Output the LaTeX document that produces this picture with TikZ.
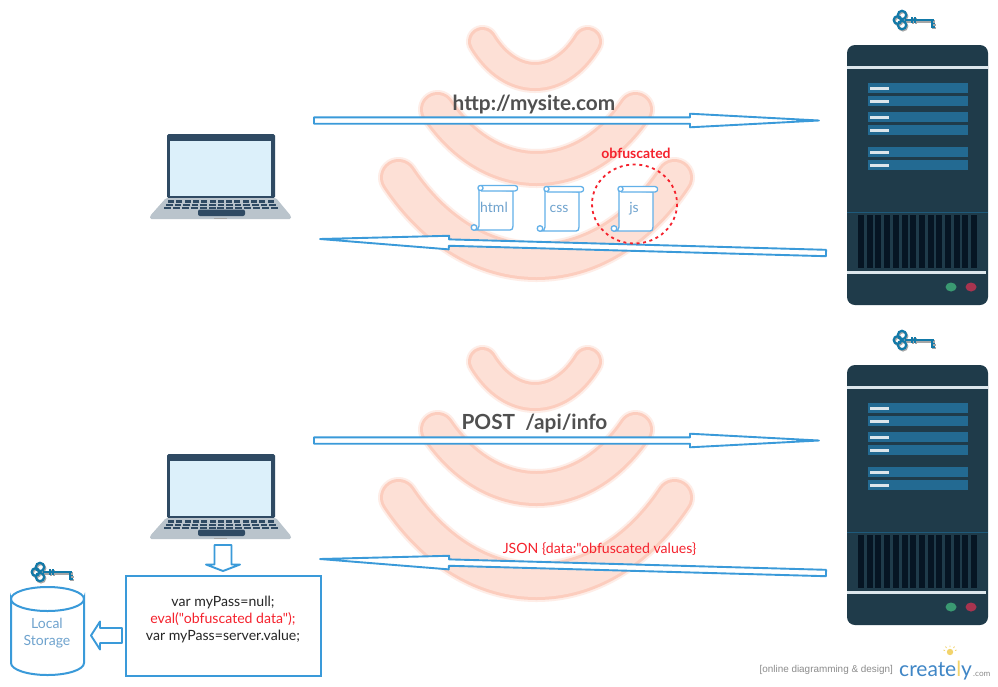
\documentclass[tikz,border=0pt]{standalone}
\usepackage{fontspec}
\setmainfont{Lato}[Ligatures=TeXOff]
\newfontfamily\arialish{Liberation Sans}
\usetikzlibrary{calc}
\definecolor{flow}{HTML}{3A9AD9}
\definecolor{docline}{HTML}{62B0E8}
\definecolor{doctext}{HTML}{6FA3CE}
\definecolor{bandfill}{HTML}{FDE0D6}
\definecolor{bandline}{HTML}{FCCDBE}
\definecolor{bandhalo}{HTML}{FEEDE7}
\definecolor{srv}{HTML}{1F3B4A}
\definecolor{srvbar}{HTML}{236A92}
\definecolor{srvline}{HTML}{DCE6EC}
\definecolor{srvvent}{HTML}{061523}
\definecolor{keyblue}{HTML}{1279A8}
\definecolor{lapdark}{HTML}{2F4A63}
\definecolor{lapscreen}{HTML}{DCF0FA}
\definecolor{lapbase}{HTML}{BAC4CC}
\definecolor{labelgrey}{HTML}{505050}
\definecolor{ledgreen}{HTML}{3A9A72}
\definecolor{ledred}{HTML}{A8344F}
\definecolor{brandblue}{HTML}{3F86C6}
\definecolor{brandlamp}{HTML}{F2D36B}
\definecolor{alert}{HTML}{F5222D}
% left tip x, right tip x, tip y, tip radius, outer bottom y, inner bottom y
\newcommand{\banana}[6]{%
  \pgfmathsetmacro{\bw}{2*#4}%
  \pgfmathsetmacro{\bc}{#3+(((#5+#6)/2)-#3)*4/3}%
  \pgfmathsetmacro{\bd}{(#2-#1)*0.27}%
  \def\bcurve{(#1,#3) .. controls ({#1+\bd},\bc) and ({#2-\bd},\bc) .. (#2,#3)}%
  \draw[bandhalo,line width=\bw pt+5pt,line cap=round] \bcurve;
  \draw[bandline,line width=\bw pt+1pt,line cap=round] \bcurve;
  \draw[bandfill,line width=\bw pt-5pt,line cap=round] \bcurve;
}
% block arrow between two named points: from, to, head length, half shaft, half head
\newcommand{\blockarrow}[5]{%
  \coordinate (hb) at ($(#2)!#3!(#1)$);
  \draw[flowarrow]
    ($(#1)!#4!90:(#2)$) -- ($(hb)!#4!90:(#2)$) -- ($(hb)!#5!90:(#2)$) -- (#2)
    -- ($(hb)!#5!-90:(#2)$) -- ($(hb)!#4!-90:(#2)$) -- ($(#1)!#4!-90:(#2)$) -- cycle;
}
\newcommand{\keyshape}[1]{%
  \draw[#1,line width=2.2pt] (902,15) circle (4.2) (897.5,20) circle (3.8) (902,25) circle (4.2);
  \draw[#1,line width=2.8pt] (905,20) -- (934,20);
  \draw[#1,line width=1.6pt] (912,17) -- (912,23) (915,17) -- (915,23);
  \draw[#1,line width=1.8pt] (932,20) -- (932,28) (932,23.5) -- (935,23.5) (932,27) -- (935,27);
}
\tikzset{
  flowarrow/.style={draw=flow,fill=white,line width=1.9pt,line join=round},
  docbody/.style={draw=docline,fill=white,line width=1.3pt,line join=round},
  doclabel/.style={text=doctext,font=\fontsize{14}{16}\selectfont},
  heading/.style={text=labelgrey,font=\fontsize{20.8}{24}\bfseries\selectfont,inner sep=0pt},
  codeline/.style={font=\fontsize{14.1}{16}\selectfont,inner sep=0pt,text=black!85},
  server/.pic={
    \fill[srv,rounded corners=8pt] (847,45) rectangle (988,305);
    \fill[srvline] (847,66) rectangle (988,68.5);
    \foreach \y in {83,96,112,125,147,160}{
      \fill[srvbar] (868,\y) rectangle (968,\y+10);
      \fill[srvline] (870,\y+4) rectangle (889,\y+6.5);
    }
    \fill[srvbar!85!black] (847,211.5) rectangle (988,212.7);
    \foreach \i in {0,...,13}{
      \fill[srvvent] ({858+8.7*\i},215) rectangle ({864+8.7*\i},268);
    }
    \fill[srvline] (847,271) rectangle (986,273.5);
    \fill[ledgreen] (951,287) ellipse (5.5 and 4.5);
    \fill[ledred] (971,287) ellipse (5.5 and 4.5);
  },
  keypic/.pic={
    \begin{scope}[shift={(1,1.2)}]\keyshape{black!35}\end{scope}
    \keyshape{keyblue}
  },
  laptop/.pic={
    \fill[lapdark,rounded corners=1.5pt] (167,134) rectangle (275,198);
    \fill[lapscreen] (170,141) rectangle (271,196);
    \fill[lapbase,rounded corners=1.5pt] (166,198) -- (276,198) -- (291,216) -- (291,219) -- (150,219) -- (150,216) -- cycle;
    \foreach \i in {0,...,12}{
      \fill[lapdark] ({168+8.3*\i},199.5) rectangle ({174+8.3*\i},202.5);
      \fill[lapdark] ({166+8.6*\i},203.5) rectangle ({172.5+8.6*\i},206.3);
      \fill[lapdark] ({164+8.9*\i},207) rectangle ({171+8.9*\i},208.8);
    }
    \fill[lapdark,rounded corners=2pt] (198,209.5) rectangle (245,216);
    \fill[black!35] (214,217.5) rectangle (227,218.5);
  },
  scrolldoc/.pic={
    \draw[docbody] (3,4) -- (3,41) .. controls (3,44) and (1,45) .. (-1,45) -- (34,45)
       .. controls (36,45) and (37,44) .. (37,41) -- (37,6) -- cycle;
    \draw[docbody] (5,0.5) -- (39,0.5) .. controls (42.5,0.5) and (42.5,6) .. (39,6) -- (5,6);
    \draw[docbody] (4.5,3) circle (2.6);
    \draw[docbody] (-2,42.5) circle (2.8);
  }
}
\begin{document}
\begin{tikzpicture}[x=1pt,y=-1pt]
\useasboundingbox (0,0) rectangle (998,686);
\fill[white] (0,0) rectangle (998,686);
% wifi bands
\banana{482.5}{587.5}{41.5}{14}{93}{60}
\banana{437.5}{635.5}{109.5}{17}{188}{149}
\banana{398.5}{674.5}{177.5}{18}{282}{241}
\banana{482.5}{587.5}{361.5}{14}{413}{380}
\banana{437.5}{635.5}{429.5}{17}{508}{469}
\banana{398.5}{674.5}{497.5}{18}{602}{561}
% devices
\pic at (0,0) {server};
\pic at (0,320) {server};
\pic at (0,0) {keypic};
\pic at (0,320) {keypic};
\pic at (-862,552) {keypic};
\pic at (0,0) {laptop};
\pic at (0,320) {laptop};
% documents
\pic at (476,185) {scrolldoc};
\pic at (542,186) {scrolldoc};
\pic at (616,186) {scrolldoc};
\node[doclabel] (html) at (494,207) {html};
\node[doclabel] (css) at (559,209) {css};
\node[doclabel] (js) at (634,209) {js};
% connectors
\coordinate (a1s) at (314,120.5); \coordinate (a1e) at (819,120.5);
\coordinate (a2s) at (826,253); \coordinate (a2e) at (320,239);
\coordinate (a3s) at (314,440.5); \coordinate (a3e) at (819,440.5);
\coordinate (a4s) at (826,573); \coordinate (a4e) at (320,559);
\blockarrow{a1s}{a1e}{129pt}{3.2pt}{6.8pt}
\blockarrow{a2s}{a2e}{129pt}{3.2pt}{6.8pt}
\blockarrow{a3s}{a3e}{129pt}{3.2pt}{6.8pt}
\blockarrow{a4s}{a4e}{129pt}{3.2pt}{6.8pt}
% labels
\node[heading] (url) at (534,104.5) {http://mysite.com};
\node[heading] (post) at (534.5,423.5) {POST\ \ /api/info};
\node[text=alert,font=\fontsize{14}{15}\bfseries\selectfont,inner sep=0pt] (obf) at (636,153.5) {obfuscated};
\draw[alert,line width=1.8pt,dash pattern=on 3pt off 3.6pt] (634.5,204) ellipse (42.5 and 39.5);
\node[text=alert,font=\fontsize{14.1}{15}\selectfont,inner sep=0pt] (json) at (599.5,549) {JSON \{data:"obfuscated values\}};
% code box
\node[draw=flow,line width=2pt,minimum width=195pt,minimum height=100pt,inner sep=0pt] (code) at (223,625.5) {};
\node[codeline] (l1) at (223,602.5) {var myPass=null;};
\node[codeline,text=alert] (l2) at (223,619.5) {eval("obfuscated data");};
\node[codeline] (l3) at (223,636.5) {var myPass=server.value;};
\coordinate (d1) at (223,545); \coordinate (d2) at (223,571);
\blockarrow{d1}{d2}{6.5pt}{8.5pt}{17pt}
\coordinate (e1) at (122,635.5); \coordinate (e2) at (91,635.5);
\blockarrow{e1}{e2}{9pt}{7.5pt}{14pt}
% storage
\draw[flow,line width=2pt,fill=white] (11,599) arc[start angle=180,end angle=360,x radius=36.5,y radius=-12] -- (84,663)
  arc[start angle=0,end angle=-180,x radius=36.5,y radius=-12] -- cycle;
\draw[flow,line width=2pt] (11,599) arc[start angle=180,end angle=0,x radius=36.5,y radius=-12];
\node[text=doctext,font=\fontsize{14}{17}\selectfont,align=center,inner sep=0pt] (store) at (47,633) {Local\\Storage};
% logo
\node[text=black!45,font=\arialish\fontsize{9.9}{10}\selectfont,inner sep=0pt,anchor=east] (tag) at (893,670) {[online diagramming \& design]};
\node[text=brandblue,font=\fontsize{21}{26}\selectfont,inner sep=0pt,anchor=base west] (brand) at (899,676) {creat\kern-0.2pt e\textcolor{brandlamp}{l}y};
\node[text=black!45,font=\fontsize{8.2}{10}\selectfont,inner sep=0pt,anchor=base west] (dom) at (973,676) {.com};
\fill[brandlamp] (950,652) circle (3.2);
\draw[brandlamp,line width=.8pt] (950,645.5) -- (950,647) (943.5,650) -- (945,650.5) (956.5,650) -- (955,650.5) (945.5,646.5) -- (946.5,648) (954.5,646.5) -- (953.5,648);
\end{tikzpicture}
\end{document}
